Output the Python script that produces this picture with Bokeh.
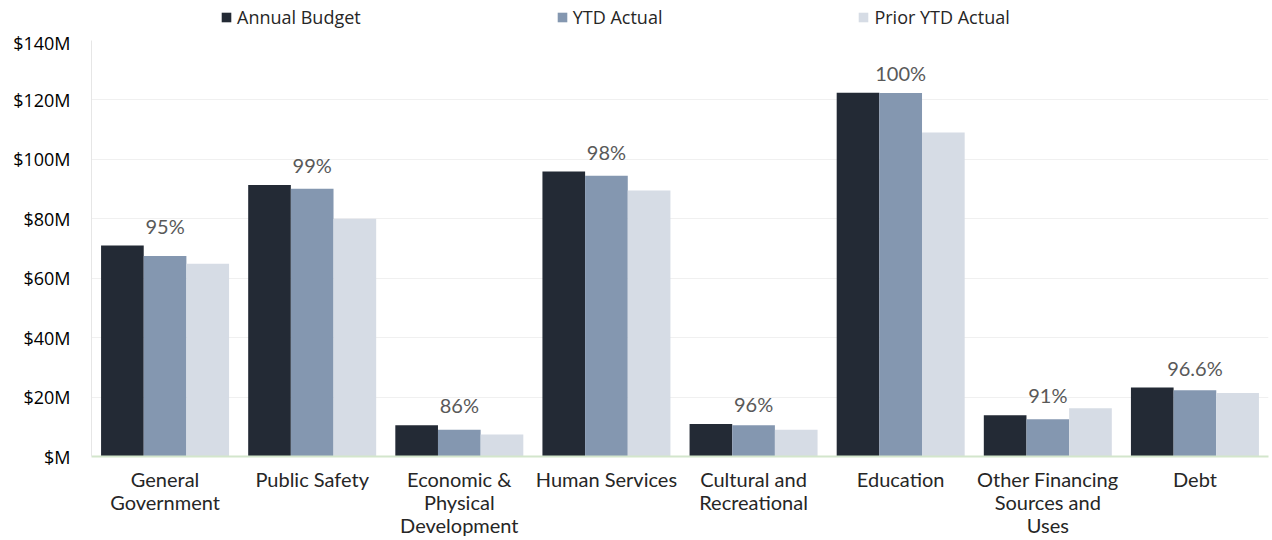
from bokeh.plotting import figure
from bokeh.layouts import column
from bokeh.models import ColumnDataSource, FactorRange, Legend, LegendItem, CustomJSTickFormatter, FixedTicker
from bokeh.transform import dodge
from bokeh.core.properties import value
from bokeh.embed import file_html
from bokeh.resources import INLINE

categories = ["General\nGovernment", "Public Safety", "Economic &\nPhysical\nDevelopment",
              "Human Services", "Cultural and\nRecreational", "Education",
              "Other Financing\nSources and\nUses", "Debt"]
annual_budget = [71.0, 91.4, 10.5, 95.9, 10.9, 122.4, 13.9, 23.2]
ytd_actual = [67.5, 90.1, 9.0, 94.5, 10.5, 122.3, 12.5, 22.3]
prior_ytd_actual = [64.9, 80.0, 7.4, 89.5, 9.0, 109.0, 16.2, 21.4]
pct_labels = ["95%", "99%", "86%", "98%", "96%", "100%", "91%", "96.6%"]
series_names = ["Annual Budget", "YTD Actual", "Prior YTD Actual"]
series_cols = ["budget", "ytd", "prior"]
series_colors = ["#232a35", "#8497b0", "#d6dce5"]
y_ticks = [0, 20, 40, 60, 80, 100, 120, 140]

src = ColumnDataSource(dict(cat=categories, budget=annual_budget, ytd=ytd_actual,
                            prior=prior_ytd_actual, pct=pct_labels))

p = figure(width=1272, height=510, x_range=FactorRange(*categories, range_padding=0),
           y_range=(0, 140), output_backend="svg", toolbar_location=None,
           min_border_left=91, min_border_right=4, min_border_top=10, min_border_bottom=84)
p.outline_line_color = None
p.background_fill_color = "white"
p.border_fill_color = "white"

w = 0.29
for off, colname, col in zip([-w, 0, w], series_cols, series_colors):
    p.vbar(x=dodge("cat", off, range=p.x_range), top=colname, width=w, source=src,
           fill_color=col, line_color=None)

p.text(x="cat", y="budget", text="pct", source=src, text_align="center",
       text_baseline="bottom", y_offset=-8, text_font=value("Lato"),
       text_font_size="20px", text_color="#595959")

p.yaxis.ticker = FixedTicker(ticks=y_ticks)
p.yaxis.formatter = CustomJSTickFormatter(code="return '$' + (tick == 0 ? '' : tick) + 'M';")
p.yaxis.major_label_text_font = "Open Sans"
p.yaxis.major_label_text_font_size = "18px"
p.yaxis.major_label_text_color = "#000000"
p.yaxis.axis_line_color = "#e6e6e6"
p.yaxis.major_tick_line_color = None
p.yaxis.minor_tick_line_color = None
p.yaxis.major_label_standoff = 15

p.xaxis.axis_line_color = "#d3e6cc"
p.xaxis.axis_line_width = 2
p.xaxis.major_tick_line_color = None
p.xaxis.minor_tick_line_color = None
p.xaxis.major_label_text_font = "Lato"
p.xaxis.major_label_text_font_size = "20px"
p.xaxis.major_label_text_line_height = 0.96
p.xaxis.major_label_text_color = "#262626"
p.xaxis.major_label_standoff = 4

p.xgrid.grid_line_color = None
p.ygrid.grid_line_color = "#f0f0f0"
p.ygrid.ticker = FixedTicker(ticks=y_ticks)

# legend strip above the chart (its bars lie below its visible range; only the legend shows)
lg = figure(width=1272, height=30, x_range=FactorRange(*categories), y_range=(1000, 1001),
            output_backend="svg", toolbar_location=None, min_border=0, outline_line_color=None)
lg.axis.visible = False
lg.grid.visible = False
items = []
for name, colname, col in zip(series_names, series_cols, series_colors):
    r = lg.vbar(x="cat", top=colname, width=w, source=src, fill_color=col, line_color=None)
    items.append(LegendItem(label=name, renderers=[r]))
legend = Legend(items=items, orientation="horizontal", location=(129, 1), spacing=195,
                glyph_width=12, glyph_height=12, label_standoff=5,
                label_text_font="Open Sans", label_text_font_size="18px",
                label_text_color="#262626", border_line_color=None,
                background_fill_alpha=0, padding=2, margin=0, label_height=14)
lg.add_layout(legend, "center")

layout = column(lg, p, spacing=0)
open("out.html", "w").write(file_html(layout, INLINE))
